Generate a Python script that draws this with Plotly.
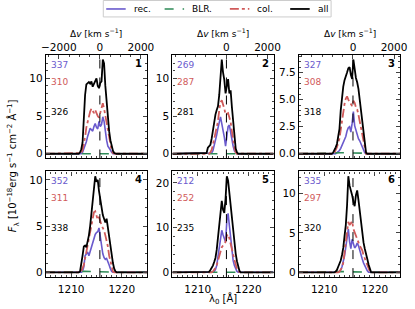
import plotly.graph_objects as go

# ---------------- data ----------------
wave = [1205.0] + [1211.5 + 0.25 * i for i in range(33)] + [1225.0]

def pad(v):
    v = list(v) + [0.0] * (33 - len(v))
    return [0.0] + v + [0.0]

# grid 1211.5 ... 1219.5 step 0.25 (33 pts)
all_1 = [0, 0.2, 0.6, 1.5, 5.0, 7.8, 9.2, 9.4, 9.5, 9.3, 9.6, 8.9, 9.3, 9.8, 10.0, 9.0, 8.7, 9.4, 9.6, 12.5, 12.0, 9.0, 6.8, 5.0, 3.0, 1.8, 0.9, 0.4, 0.1, 0]
col_1 = [0, 0, 0.1, 0.5, 1.2, 2.2, 3.5, 4.3, 5.0, 5.6, 6.0, 5.6, 5.4, 5.8, 5.3, 5.0, 4.8, 5.4, 5.9, 6.7, 6.0, 5.0, 4.2, 3.0, 1.8, 1.0, 0.4, 0.1, 0]
rec_1 = [0, 0, 0, 0.2, 0.6, 1.2, 1.6, 2.3, 2.8, 3.4, 3.2, 3.0, 3.6, 4.0, 3.5, 3.3, 4.3, 3.6, 3.9, 4.9, 4.3, 2.8, 1.8, 1.0, 0.8, 0.5, 0.2, 0]

all_2 = [0, 0.1, 0.8, 1.0, 1.2, 2.0, 3.3, 4.5, 5.2, 5.8, 6.3, 7.8, 11.0, 12.5, 10.8, 9.8, 8.0, 8.8, 9.9, 8.0, 8.4, 6.2, 4.0, 2.0, 0.7, 0.2, 0]
col_2 = [0, 0, 0, 0, 0.2, 0.5, 1.2, 2.0, 2.8, 3.6, 4.3, 5.8, 6.8, 7.1, 6.6, 6.0, 5.2, 5.3, 5.4, 4.8, 4.2, 3.0, 1.8, 0.8, 0.2, 0]
rec_2 = [0, 0, 0, 0, 0, 0.1, 0.4, 1.0, 1.6, 2.5, 3.4, 4.2, 4.9, 4.0, 3.2, 2.2, 1.0, 2.6, 3.6, 3.8, 2.8, 1.8, 1.0, 0.4, 0.1, 0]

all_3 = [0, 0.1, 0.3, 0.6, 0.9, 1.5, 2.3, 4.0, 5.4, 6.2, 6.8, 7.1, 7.5, 7.9, 8.0, 7.3, 6.9, 8.7, 7.6, 7.0, 6.6, 6.0, 5.0, 4.0, 3.1, 2.0, 0.6, 0.1, 0]
col_3 = [0, 0, 0.1, 0.3, 0.6, 1.0, 1.4, 2.2, 3.1, 3.9, 4.6, 5.1, 5.3, 5.0, 4.8, 4.6, 4.4, 4.9, 4.7, 4.3, 4.1, 3.6, 3.0, 2.3, 1.5, 0.9, 0.3, 0]
rec_3 = [0, 0, 0, 0, 0.1, 0.2, 0.3, 0.5, 0.8, 1.0, 1.3, 1.6, 2.1, 2.4, 2.5, 2.0, 2.8, 3.9, 2.6, 2.1, 1.7, 1.4, 1.2, 0.9, 0.6, 0.3, 0.1, 0]

all_4 = [0, 0.1, 0.8, 1.8, 2.8, 2.9, 2.7, 3.3, 4.0, 5.0, 6.4, 7.6, 9.2, 10.4, 9.8, 10.0, 8.8, 7.8, 6.9, 6.2, 5.8, 5.4, 5.8, 4.8, 3.8, 2.7, 1.8, 1.0, 0.4, 0.1, 0]
col_4 = [0, 0, 0.1, 0.4, 0.8, 1.5, 2.2, 2.9, 3.6, 4.4, 5.2, 5.9, 6.5, 6.6, 6.1, 5.7, 6.0, 5.4, 5.1, 4.8, 4.5, 4.0, 3.5, 2.8, 1.8, 1.2, 0.5, 0.1, 0]
rec_4 = [0, 0, 0, 0.1, 0.6, 1.8, 2.0, 2.2, 1.8, 2.3, 2.8, 3.3, 3.8, 4.1, 4.3, 4.4, 4.8, 3.8, 2.6, 2.0, 1.6, 1.4, 1.5, 1.2, 0.8, 0.4, 0.1, 0]

all_5 = [0, 0, 0, 0.1, 0.5, 0.9, 1.5, 2.3, 3.2, 5.0, 7.8, 11.6, 14.8, 16.0, 14.0, 13.3, 16.5, 21.5, 20.5, 17.5, 15.0, 12.0, 9.0, 6.5, 4.2, 2.5, 1.0, 0.3, 0]
col_5 = [0, 0, 0, 0, 0, 0, 0.2, 0.5, 1.0, 1.6, 2.6, 3.8, 5.0, 5.6, 6.0, 6.4, 6.8, 8.2, 8.5, 7.6, 6.6, 5.2, 4.0, 2.8, 1.6, 0.8, 0.2, 0]
rec_5 = [0, 0, 0, 0, 0, 0, 0, 0.2, 0.6, 1.5, 3.5, 6.0, 8.5, 9.4, 8.4, 7.4, 6.8, 11.5, 13.2, 10.5, 7.8, 4.8, 2.6, 1.5, 0.8, 0.2, 0]

all_6 = [0, 0, 0, 0.1, 0.3, 0.7, 1.1, 1.5, 2.2, 3.1, 4.6, 6.0, 8.5, 12.2, 11.0, 10.5, 9.8, 9.0, 8.4, 9.8, 10.4, 9.2, 7.8, 6.0, 4.6, 3.8, 3.0, 2.5, 1.7, 1.0, 0.4, 0]
col_6 = [0, 0, 0, 0, 0, 0, 0.1, 0.3, 0.6, 1.2, 2.5, 4.0, 5.6, 6.4, 6.0, 6.3, 6.5, 5.5, 5.0, 4.6, 4.3, 3.8, 3.4, 3.1, 2.8, 2.2, 1.8, 1.4, 0.9, 0.5, 0.1, 0]
rec_6 = [0, 0, 0, 0, 0, 0, 0.1, 0.3, 0.7, 1.3, 2.1, 3.2, 4.3, 5.5, 3.9, 3.0, 4.2, 3.6, 3.1, 3.3, 3.7, 3.4, 2.7, 2.2, 1.7, 1.2, 0.8, 0.5, 0.2, 0]

blr_all = [0, 0, 0.05, 0.08, 0.1, 0.1, 0.1, 0.1, 0.1, 0.1, 0.1, 0.1, 0.1, 0.1, 0.1, 0.1, 0.1, 0.1, 0.1, 0.1, 0.1, 0.1, 0.1, 0.1, 0.1, 0.1, 0.08, 0.05, 0.02, 0]

all_series = [all_1, all_2, all_3, all_4, all_5, all_6]
col_series = [col_1, col_2, col_3, col_4, col_5, col_6]
rec_series = [rec_1, rec_2, rec_3, rec_4, rec_5, rec_6]

num_rec = ["337", "269", "327", "352", "212", "335"]
num_col = ["310", "287", "308", "311", "252", "297"]
num_all = ["326", "281", "318", "338", "235", "320"]
panel_ids = ["1", "2", "3", "4", "5", "6"]
ydticks = [5, 5, 2.5, 5, 10, 5]
vel_ticks = [[-2000, 0, 2000], [0, 2000], [0, 2000]]
legend_names = ["rec.", "BLR.", "col.", "all"]

LYA = 1215.67
C_KMS = 299792.458
XMIN, XMAX = 1205.0, 1225.0

# ---------------- style ----------------
W, H = 415, 309
C_REC = "#6A5ACD"
C_BLR = "#2E8B57"
C_COL = "#D05A5A"
C_ALL = "#000000"
FONT = "DejaVu Sans"
styles = [(C_REC, "solid", 1.6), (C_BLR, "dash", 1.6), (C_COL, "dashdot", 1.8), (C_ALL, "solid", 1.8)]

col_px = [(43, 147), (173, 277), (303, 407)]
row_px = [(55, 159), (172, 278)]

def px(x):
    return x / W

def py(y):
    return 1 - y / H

fig = go.Figure()
layout = dict(width=W, height=H, margin=dict(l=0, r=0, t=0, b=0),
              paper_bgcolor="white", plot_bgcolor="white",
              font=dict(family=FONT, size=10.5, color="black"),
              showlegend=False)
annotations = []
shapes = []

for i in range(6):
    r, c = divmod(i, 3)
    n = i + 1
    xa = "x" if n == 1 else f"x{n}"
    ya = "y" if n == 1 else f"y{n}"
    xk = "xaxis" if n == 1 else f"xaxis{n}"
    yk = "yaxis" if n == 1 else f"yaxis{n}"
    x0, x1 = col_px[c]
    t0, t1 = row_px[r]
    ymax = max(all_series[i])
    yr = [-0.05 * ymax, 1.05 * ymax]

    series = [pad(rec_series[i]), pad(blr_all), pad(col_series[i]), pad(all_series[i])]
    for name, ys, (color, dash, wdt) in zip(legend_names, series, styles):
        fig.add_trace(go.Scatter(x=wave, y=ys, mode="lines", name=name,
                                 line=dict(color=color, dash=dash, width=wdt),
                                 xaxis=xa, yaxis=ya))

    layout[xk] = dict(domain=[px(x0), px(x1)], anchor=ya, range=[XMIN, XMAX],
                      tickvals=[1210, 1220], ticks="inside", ticklen=4,
                      showticklabels=(r == 1), showgrid=False, zeroline=False,
                      showline=True, linecolor="black", linewidth=1.2,
                      mirror="ticks" if r == 1 else True,
                      minor=dict(ticks="inside", ticklen=2, dtick=1, tick0=1205,
                                 showgrid=False),
                      ticklabelstandoff=2,
                      tickfont=dict(size=10.5))
    dt = ydticks[i]
    layout[yk] = dict(domain=[py(t1), py(t0)], anchor=xa, range=yr,
                      dtick=dt, tick0=0, ticks="inside", ticklen=4,
                      tickformat=".1f" if dt == 2.5 else "d",
                      showgrid=False, zeroline=False, showline=True,
                      linecolor="black", linewidth=1.2, mirror="ticks",
                      minor=dict(ticks="inside", ticklen=2, dtick=dt / 5,
                                 showgrid=False),
                      tickfont=dict(size=10.5))

    shapes.append(dict(type="line", xref=xa, yref=f"{ya} domain",
                       x0=LYA, x1=LYA, y0=0, y1=1,
                       line=dict(color="black", width=1, dash="dash")))

    for txt, col, dy in [(num_rec[i], C_REC, 3), (num_col[i], C_COL, 20),
                         (num_all[i], "black", 50)]:
        annotations.append(dict(text=txt, xref="paper", yref="paper",
                                x=px(x0 + 3), y=py(t0 + dy),
                                xanchor="left", yanchor="top", showarrow=False,
                                font=dict(size=9, color=col)))
    annotations.append(dict(text=f"<b>{panel_ids[i]}</b>", xref="paper", yref="paper",
                            x=px(x1 - 3), y=py(t0 + 1),
                            xanchor="right", yanchor="top", showarrow=False,
                            font=dict(size=10, color="black")))

# velocity axes on the top row
vmin = (XMIN - LYA) / LYA * C_KMS
vmax = (XMAX - LYA) / LYA * C_KMS
for c in range(3):
    n = 7 + c
    base = "x" if c == 0 else f"x{c + 1}"
    ya = "y" if c == 0 else f"y{c + 1}"
    x0, x1 = col_px[c]
    layout[f"xaxis{n}"] = dict(domain=[px(x0), px(x1)], overlaying=base, anchor=ya,
                               side="top", range=[vmin, vmax],
                               tickvals=vel_ticks[c], ticks="inside", ticklen=4,
                               showgrid=False, zeroline=False, showline=False,
                               minor=dict(ticks="inside", ticklen=2, dtick=500,
                                          tick0=0, showgrid=False),
                               ticklabelstandoff=1,
                               tickfont=dict(size=10.5))
    fig.add_trace(go.Scatter(x=[vmin, vmax], y=[None, None], mode="lines",
                             xaxis=f"x{n}", yaxis=ya, showlegend=False,
                             hoverinfo="skip"))
    annotations.append(dict(text="Δ<i>v</i> [km s<sup>−1</sup>]", xref="paper", yref="paper",
                            x=px((x0 + x1) / 2), y=py(33), xanchor="center",
                            yanchor="middle", showarrow=False, font=dict(size=9)))

# manual legend (matplotlib style, top centre)
shapes.append(dict(type="rect", xref="paper", yref="paper",
                   x0=px(102), x1=px(336), y0=py(17), y1=py(0.5),
                   line=dict(color="#cccccc", width=1), fillcolor="white"))
leg_line_x = [105, 165, 232, 294]
for name, lx, (color, dash, wdt) in zip(legend_names, leg_line_x, styles):
    shapes.append(dict(type="line", xref="paper", yref="paper",
                       x0=px(lx), x1=px(lx + 20), y0=py(9), y1=py(9),
                       line=dict(color=color, dash=dash, width=wdt)))
    annotations.append(dict(text=name, xref="paper", yref="paper",
                            x=px(lx + 26), y=py(9), xanchor="left", yanchor="middle",
                            showarrow=False, font=dict(size=9)))

annotations.append(dict(text="<i>F</i><sub>λ</sub> [10<sup>−18</sup>erg s<sup>−1</sup> cm<sup>−2</sup> Å<sup>−1</sup>]",
                        xref="paper", yref="paper", x=px(10), y=py(166),
                        textangle=-90, showarrow=False, xanchor="center",
                        yanchor="middle", font=dict(size=10)))
annotations.append(dict(text="λ<sub>0</sub> [Å]", xref="paper", yref="paper",
                        x=px(225), y=py(300), showarrow=False,
                        xanchor="center", yanchor="middle", font=dict(size=10)))

layout["annotations"] = annotations
layout["shapes"] = shapes
fig.update_layout(**layout)
fig.write_html("out.html", config={"displayModeBar": False},
               post_script="document.body.style.margin='0px';document.body.style.overflow='hidden';")
